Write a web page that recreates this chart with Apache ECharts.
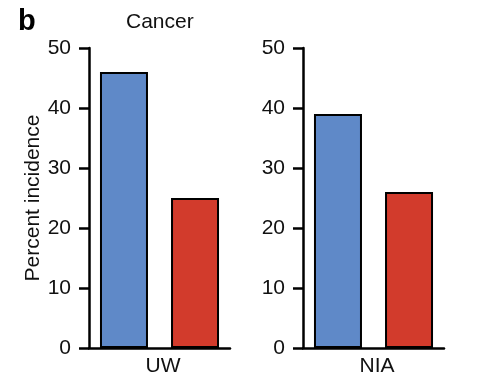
<!DOCTYPE html>
<html><head><meta charset="utf-8">
<script src="https://cdn.jsdelivr.net/npm/echarts@6/dist/echarts.min.js"></script>
<style>html,body{margin:0;padding:0;background:#fff}#c{width:480px;height:385px}</style>
</head><body><div id="c"></div>
<script>
const panels = ['UW', 'NIA'];
const blueValues = [46, 39];
const redValues = [25, 26];
const yTicks = [0, 10, 20, 30, 40, 50];
const title = 'Cancer';
const panelLetter = 'b';
const yName = 'Percent incidence';

const FONT = 'Liberation Sans, Arial, Helvetica, sans-serif';
const FS = 21;
const chart = echarts.init(document.getElementById('c'));
const grids = [
  {left: 89, right: 250, top: 48, bottom: 37},
  {left: 303, right: 36, top: 48, bottom: 37}
];
const xAxes = [], yAxes = [], series = [];
panels.forEach((p, i) => {
  xAxes.push({
    type: 'category', gridIndex: i, data: [p],
    axisLine: {lineStyle: {color: '#000', width: 2.5}},
    axisTick: {show: false},
    axisLabel: {color: '#111', fontSize: FS, fontFamily: FONT, margin: 8, padding: [0, 0, 0, 7]}
  });
  yAxes.push({
    type: 'value', gridIndex: i, min: yTicks[0], max: yTicks[yTicks.length - 1], interval: 10,
    splitLine: {show: false},
    axisLine: {show: true, lineStyle: {color: '#000', width: 2.5}},
    axisTick: {show: true, length: 10, lineStyle: {color: '#000', width: 2.5}},
    axisLabel: {color: '#111', fontSize: FS, fontFamily: FONT, margin: 18},
    name: i === 0 ? yName : '', nameLocation: 'middle', nameGap: 44,
    nameTextStyle: {color: '#111', fontSize: FS, fontFamily: FONT}
  });
  series.push({
    type: 'bar', xAxisIndex: i, yAxisIndex: i, data: [blueValues[i]],
    barWidth: 48, barGap: '48%',
    itemStyle: {color: '#5f89c8', borderColor: '#000', borderWidth: 2}
  });
  series.push({
    type: 'bar', xAxisIndex: i, yAxisIndex: i, data: [redValues[i]],
    barWidth: 48, barGap: '48%',
    itemStyle: {color: '#d23b2c', borderColor: '#000', borderWidth: 2}
  });
});
chart.setOption({
  animation: false,
  backgroundColor: '#fff',
  title: [
    {text: panelLetter, left: 13, top: 2, textStyle: {fontSize: 29, fontWeight: 'bold', color: '#000', fontFamily: FONT}},
    {text: title, left: 121, top: 7, textStyle: {fontSize: FS, fontWeight: 'normal', color: '#111', fontFamily: FONT}}
  ],
  grid: grids,
  xAxis: xAxes,
  yAxis: yAxes,
  series: series
});
</script></body></html>
